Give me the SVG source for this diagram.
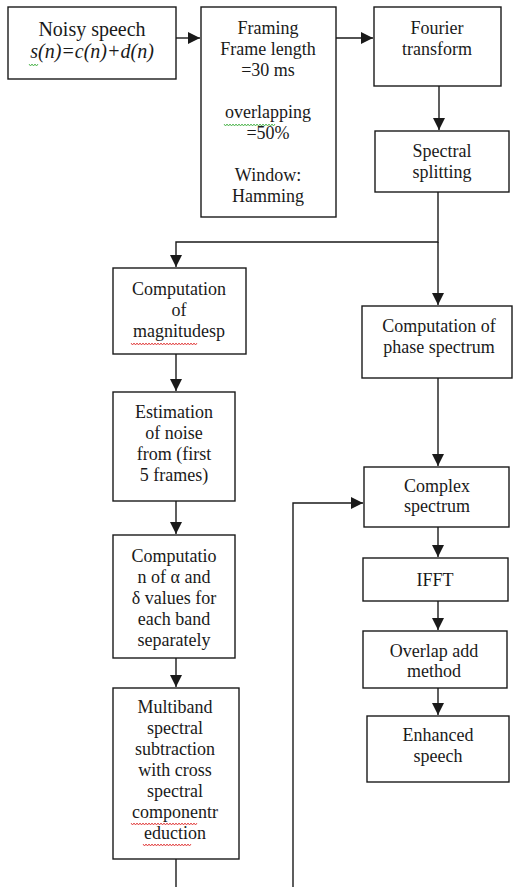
<svg xmlns="http://www.w3.org/2000/svg" width="515" height="887" viewBox="0 0 515 887">
<defs>
<style>
.b{fill:#fff;stroke:#1a1a1a;stroke-width:1.4}
.t{font-family:'Liberation Serif','DejaVu Serif',serif;font-size:18px;fill:#1a1a1a;text-anchor:middle}
.c{fill:none;stroke:#1a1a1a;stroke-width:1.4}
.sq{fill:none;stroke-width:0.8}
</style>
<marker id="ah" markerWidth="13" markerHeight="12" refX="12" refY="6" orient="auto" markerUnits="userSpaceOnUse">
<path d="M0,0 L12,6 L0,12 Z" fill="#1a1a1a"/>
</marker>
</defs>
<rect width="515" height="887" fill="#fff"/>
<g id="connectors">
<line class="c" x1="176" y1="38" x2="200" y2="38" marker-end="url(#ah)"/>
<line class="c" x1="336" y1="38" x2="373" y2="38" marker-end="url(#ah)"/>
<line class="c" x1="439" y1="86" x2="439" y2="130" marker-end="url(#ah)"/>
<polyline class="c" points="438,192 438,242 176,242 176,267" marker-end="url(#ah)"/>
<line class="c" x1="438" y1="242" x2="438" y2="305" marker-end="url(#ah)"/>
<line class="c" x1="438" y1="378" x2="438" y2="466" marker-end="url(#ah)"/>
<line class="c" x1="176" y1="354" x2="176" y2="391" marker-end="url(#ah)"/>
<line class="c" x1="176" y1="501" x2="176" y2="534" marker-end="url(#ah)"/>
<line class="c" x1="176" y1="658" x2="176" y2="687" marker-end="url(#ah)"/>
<line class="c" x1="176" y1="859" x2="176" y2="887"/>
<polyline class="c" points="293,887 293,503 363,503" marker-end="url(#ah)"/>
<line class="c" x1="438" y1="527" x2="438" y2="557" marker-end="url(#ah)"/>
<line class="c" x1="438" y1="601" x2="438" y2="630" marker-end="url(#ah)"/>
<line class="c" x1="438" y1="688" x2="438" y2="715" marker-end="url(#ah)"/>
</g>
<g id="noisy">
<rect class="b" x="8" y="7" width="168" height="72"/>
<text class="t" style="font-size:20px" x="92" y="36">Noisy speech</text>
<text class="t" style="font-size:20px;font-style:italic" x="92" y="58">s(n)=c(n)+d(n)</text>
<path class="sq" stroke="#3a3" d="M29,64 l1.5,2 l1.5,-2 l1.5,2 l1.5,-2 l1.5,2 l1.5,-2"/>
</g>
<g id="framing">
<rect class="b" x="201" y="7" width="135" height="210"/>
<text class="t" x="268" y="34">Framing</text>
<text class="t" x="268" y="55">Frame length</text>
<text class="t" x="268" y="76">=30 ms</text>
<text class="t" x="268" y="118">overlapping</text>
<text class="t" x="268" y="139">=50%</text>
<text class="t" x="268" y="181">Window:</text>
<text class="t" x="268" y="202">Hamming</text>
<path class="sq" stroke="#3a3" d="M224,124 l1.5,2 l1.5,-2 l1.5,2 l1.5,-2 l1.5,2 l1.5,-2 l1.5,2 l1.5,-2 l1.5,2 l1.5,-2 l1.5,2 l1.5,-2 l1.5,2 l1.5,-2 l1.5,2 l1.5,-2 l1.5,2 l1.5,-2 l1.5,2 l1.5,-2 l1.5,2 l1.5,-2 l1.5,2 l1.5,-2 l1.5,2 l1.5,-2 l1.5,2 l1.5,-2 l1.5,2 l1.5,-2 l1.5,2 l1.5,-2 l1.5,2 l1.5,-2"/>
</g>
<g id="fourier">
<rect class="b" x="374" y="7" width="127" height="79"/>
<text class="t" x="437" y="34">Fourier</text>
<text class="t" x="437" y="55">transform</text>
</g>
<g id="splitting">
<rect class="b" x="375" y="131" width="134" height="61"/>
<text class="t" x="442" y="157">Spectral</text>
<text class="t" x="442" y="178">splitting</text>
</g>
<g id="magnitude">
<rect class="b" x="113" y="268" width="133" height="86"/>
<text class="t" x="179" y="295">Computation</text>
<text class="t" x="179" y="316">of</text>
<text class="t" x="179" y="337">magnitudesp</text>
<path class="sq" stroke="#d22" d="M131,343 l1.5,2 l1.5,-2 l1.5,2 l1.5,-2 l1.5,2 l1.5,-2 l1.5,2 l1.5,-2 l1.5,2 l1.5,-2 l1.5,2 l1.5,-2 l1.5,2 l1.5,-2 l1.5,2 l1.5,-2 l1.5,2 l1.5,-2 l1.5,2 l1.5,-2 l1.5,2 l1.5,-2 l1.5,2 l1.5,-2 l1.5,2 l1.5,-2 l1.5,2 l1.5,-2 l1.5,2 l1.5,-2 l1.5,2 l1.5,-2 l1.5,2 l1.5,-2 l1.5,2 l1.5,-2 l1.5,2 l1.5,-2 l1.5,2 l1.5,-2 l1.5,2 l1.5,-2 l1.5,2 l1.5,-2"/>
</g>
<g id="phase">
<rect class="b" x="362" y="306" width="150" height="72"/>
<text class="t" x="439" y="332">Computation of</text>
<text class="t" x="439" y="353">phase spectrum</text>
</g>
<g id="estimation">
<rect class="b" x="113" y="392" width="122" height="109"/>
<text class="t" x="174" y="418">Estimation</text>
<text class="t" x="174" y="439">of noise</text>
<text class="t" x="174" y="460">from (first</text>
<text class="t" x="174" y="481">5 frames)</text>
</g>
<g id="complex">
<rect class="b" x="364" y="467" width="145" height="60"/>
<text class="t" x="437" y="492">Complex</text>
<text class="t" x="437" y="512">spectrum</text>
</g>
<g id="alpha">
<rect class="b" x="113" y="535" width="122" height="123"/>
<text class="t" x="174" y="562">Computatio</text>
<text class="t" x="174" y="583">n of α and</text>
<text class="t" x="174" y="604">δ values for</text>
<text class="t" x="174" y="625">each band</text>
<text class="t" x="174" y="646">separately</text>
</g>
<g id="ifft">
<rect class="b" x="363" y="558" width="145" height="43"/>
<text class="t" x="435" y="586">IFFT</text>
</g>
<g id="overlap">
<rect class="b" x="363" y="631" width="144" height="57"/>
<text class="t" x="434" y="657">Overlap add</text>
<text class="t" x="434" y="677">method</text>
</g>
<g id="multiband">
<rect class="b" x="113" y="688" width="126" height="171"/>
<text class="t" x="175" y="713">Multiband</text>
<text class="t" x="175" y="734">spectral</text>
<text class="t" x="175" y="755">subtraction</text>
<text class="t" x="175" y="776">with cross</text>
<text class="t" x="175" y="797">spectral</text>
<text class="t" x="175" y="818">componentr</text>
<text class="t" x="175" y="839">eduction</text>
<path class="sq" stroke="#d22" d="M131,823 l1.5,2 l1.5,-2 l1.5,2 l1.5,-2 l1.5,2 l1.5,-2 l1.5,2 l1.5,-2 l1.5,2 l1.5,-2 l1.5,2 l1.5,-2 l1.5,2 l1.5,-2 l1.5,2 l1.5,-2 l1.5,2 l1.5,-2 l1.5,2 l1.5,-2 l1.5,2 l1.5,-2 l1.5,2 l1.5,-2 l1.5,2 l1.5,-2 l1.5,2 l1.5,-2 l1.5,2 l1.5,-2 l1.5,2 l1.5,-2 l1.5,2 l1.5,-2 l1.5,2 l1.5,-2 l1.5,2 l1.5,-2 l1.5,2 l1.5,-2 l1.5,2 l1.5,-2 l1.5,2 l1.5,-2"/>
<path class="sq" stroke="#d22" d="M143,844 l1.5,2 l1.5,-2 l1.5,2 l1.5,-2 l1.5,2 l1.5,-2 l1.5,2 l1.5,-2 l1.5,2 l1.5,-2 l1.5,2 l1.5,-2 l1.5,2 l1.5,-2 l1.5,2 l1.5,-2 l1.5,2 l1.5,-2 l1.5,2 l1.5,-2 l1.5,2 l1.5,-2 l1.5,2 l1.5,-2 l1.5,2 l1.5,-2 l1.5,2 l1.5,-2 l1.5,2 l1.5,-2 l1.5,2 l1.5,-2"/>
</g>
<g id="enhanced">
<rect class="b" x="367" y="716" width="142" height="66"/>
<text class="t" x="438" y="741">Enhanced</text>
<text class="t" x="438" y="762">speech</text>
</g>
</svg>
